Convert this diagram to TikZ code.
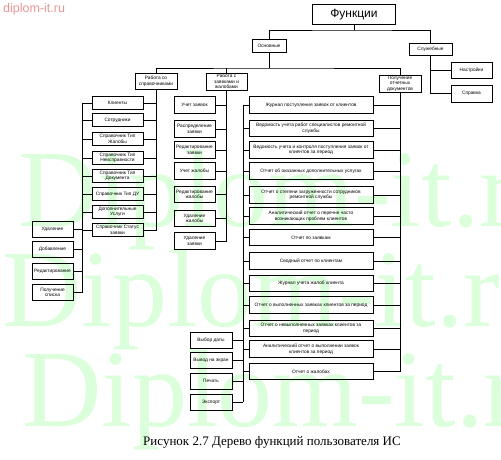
\documentclass[tikz,border=0pt]{standalone}
\usepackage{fontspec}
\setmainfont{Liberation Serif}
\newfontfamily\boxfont{Liberation Sans}
\usetikzlibrary{positioning}
\definecolor{wmgreen}{RGB}{218,255,218}
\definecolor{wmpink}{RGB}{232,150,150}

\begin{document}
\begin{tikzpicture}[x=1pt, y=-1pt,
  fbox/.style={rectangle, draw, line width=0.9pt, align=center, inner sep=0pt, font=\boxfont\fontsize{4.8}{5.6}\selectfont},
  sprbox/.style={fbox, minimum width=51pt, minimum height=13.5pt},
  opbox/.style={fbox, minimum width=41pt, minimum height=16pt},
  zaybox/.style={fbox, minimum width=41pt, minimum height=16.5pt},
  repbox/.style={fbox, minimum width=124pt, minimum height=16.5pt},
  link/.style={line width=0.8pt},
  wmark/.style={anchor=base west, inner sep=0pt, text=wmgreen, font=\fontsize{110}{110}\selectfont}
]
\useasboundingbox (0,0) rectangle (501,460);

% водяной знак
\begin{scope}
\clip (0,0) rectangle (501,460);
\node[wmark] (wm1) at (18,226) {Diplom-it.ru};
\node[wmark] (wm2) at (2,326) {Diplom-it.ru};
\node[wmark] (wm3) at (22,426) {Diplom-it.ru};
\end{scope}

% надпись сайта
\node[anchor=base west, inner sep=0pt, text=wmpink, font=\boxfont\fontsize{12.5}{14}\selectfont] (site) at (3,12.5) {diplom-it.ru};

% корень и первый уровень
\node[fbox, minimum width=83pt, minimum height=20pt, line width=1pt, font=\boxfont\fontsize{12}{14}\selectfont] (F) at (354,15) {Функции};
\node[fbox, minimum width=34pt, minimum height=13pt] (osn) at (269,45.5) {Основные};
\node[fbox, minimum width=43pt, minimum height=12pt] (sl) at (430.5,49) {Служебные};
\node[fbox, minimum width=41pt, minimum height=16pt] (nast) at (471.5,70) {Настройки};
\node[fbox, minimum width=41pt, minimum height=17pt] (sprav) at (471.5,93.5) {Справка};

% второй уровень
\node[fbox, minimum width=42pt, minimum height=16pt] (spr) at (156,81) {Работа со\\справочниками};
\node[fbox, minimum width=41pt, minimum height=17pt] (zay) at (226.5,81.5) {Работа с\\заявками и\\жалобами};
\node[fbox, minimum width=42pt, minimum height=17pt] (otch) at (400,83.5) {Получение\\отчетных\\документов};

% справочники
\node[sprbox] (c1) at (117.5,103) {Клиенты};
\node[sprbox] (c2) at (117.5,120) {Сотрудники};
\node[sprbox] (c3) at (117.5,139) {Справочник Тип\\Жалобы};
\node[sprbox] (c4) at (117.5,158) {Справочник Тип\\Неисправности};
\node[sprbox] (c5) at (117.5,176) {Справочник Тип\\Документа};
\node[sprbox] (c6) at (117.5,194) {Справочник Тип ДУ};
\node[sprbox] (c7) at (117.5,212) {Дополнительные\\Услуги};
\node[sprbox] (c8) at (117.5,230) {Справочник Статус\\заявки};

% операции со справочниками
\node[opbox] (o1) at (52.5,229) {Удаление};
\node[opbox] (o2) at (52.5,249.5) {Добавление};
\node[opbox] (o3) at (52.5,271) {Редактирование};
\node[opbox] (o4) at (52.5,292.5) {Получение\\списка};

% заявки и жалобы
\node[zaybox] (z1) at (194.5,105) {Учет заявок};
\node[zaybox] (z2) at (194.5,129) {Распределение\\заявки};
\node[zaybox] (z3) at (194.5,150) {Редактирование\\заявки};
\node[zaybox] (z4) at (194.5,171) {Учет жалобы};
\node[zaybox] (z5) at (194.5,194.5) {Редактирование\\жалобы};
\node[zaybox] (z6) at (194.5,218.5) {Удаление\\жалобы};
\node[zaybox] (z7) at (194.5,241) {Удаление\\заявки};

% отчетные документы
\node[repbox] (r1) at (311,105) {Журнал поступления заявок от клиентов};
\node[repbox] (r2) at (311,128.5) {Ведомость учета работ специалистов ремонтной\\службы};
\node[repbox] (r3) at (311,150) {Ведомость учета и контроля поступления заявок от\\клиентов за период};
\node[repbox] (r4) at (311,171) {Отчет об оказанных дополнительных услугах};
\node[repbox] (r5) at (311,195) {Отчет о степени загруженности сотрудников\\ремонтной службы};
\node[repbox] (r6) at (311,216) {Аналитический отчет о перечне часто\\возникающих проблем клиентов};
\node[repbox] (r7) at (311,237.5) {Отчет по заявкам};
\node[repbox] (r8) at (311,261) {Сводный отчет по клиентам};
\node[repbox] (r9) at (311,283.5) {Журнал учета жалоб клиента};
\node[repbox] (r10) at (311,305) {Отчет о выполненных заявках клиентов за период};
\node[repbox] (r11) at (311,328.5) {Отчет о невыполненных заявках клиентов за\\период};
\node[repbox] (r12) at (311,349) {Аналитический отчет о выполнении заявок\\клиентов за период};
\node[repbox] (r13) at (311,371.5) {Отчет о жалобах};

% операции с отчетами
\node[opbox, minimum width=42pt] (d1) at (211,340.5) {Выбор даты};
\node[opbox, minimum width=42pt] (d2) at (211,360) {Вывод на экран};
\node[opbox, minimum width=42pt] (d3) at (211,381) {Печать};
\node[opbox, minimum width=42pt] (d4) at (211,402) {Экспорт};

% связи верхних уровней
\coordinate (j1) at (354,30);
\coordinate (j2) at (269,68);
\draw[link] (F.south) -- (j1);
\draw[link] (osn.north) |- (j1) -| (sl.north);
\draw[link] (osn.south) -- (j2);
\draw[link] (spr.north) |- (j2) -| (otch.north);
\draw[link] (zay.north) -- (zay.north |- j2);
\draw[link] (sl.south) |- (nast.west) (sl.south) |- (sprav.west);

% связи справочников
\draw[link] (spr.south) |- (c1.east) (spr.south) |- (c2.east) (spr.south) |- (c3.east) (spr.south) |- (c4.east)
  (spr.south) |- (c5.east) (spr.south) |- (c6.east) (spr.south) |- (c7.east) (spr.south) |- (c8.east);
\coordinate (ls1) at (82,103);
\coordinate (ls2) at (82,292.5);
\draw[link] (ls1) -- (ls2);
\draw[link] (c1.west) -- (c1.west -| ls1) (c2.west) -- (c2.west -| ls1) (c3.west) -- (c3.west -| ls1) (c4.west) -- (c4.west -| ls1)
  (c5.west) -- (c5.west -| ls1) (c6.west) -- (c6.west -| ls1) (c7.west) -- (c7.west -| ls1) (c8.west) -- (c8.west -| ls1);
\draw[link] (o1.east) -- (o1.east -| ls1) (o2.east) -- (o2.east -| ls1) (o3.east) -- (o3.east -| ls1) (o4.east) -- (o4.east -| ls1);

% связи заявок
\draw[link] (zay.south) |- (z1.east) (zay.south) |- (z2.east) (zay.south) |- (z3.east) (zay.south) |- (z4.east)
  (zay.south) |- (z5.east) (zay.south) |- (z6.east) (zay.south) |- (z7.east);

% связи отчетов
\draw[link] (otch.south) |- (r1.east) (otch.south) |- (r2.east) (otch.south) |- (r3.east) (otch.south) |- (r4.east)
  (otch.south) |- (r5.east) (otch.south) |- (r6.east) (otch.south) |- (r7.east) (otch.south) |- (r8.east)
  (otch.south) |- (r9.east) (otch.south) |- (r10.east) (otch.south) |- (r11.east) (otch.south) |- (r12.east)
  (otch.south) |- (r13.east);
\coordinate (rs1) at (243,105);
\coordinate (rs2) at (243,402);
\draw[link] (rs1) -- (rs2);
\draw[link] (r1.west) -- (r1.west -| rs1) (r2.west) -- (r2.west -| rs1) (r3.west) -- (r3.west -| rs1) (r4.west) -- (r4.west -| rs1)
  (r5.west) -- (r5.west -| rs1) (r6.west) -- (r6.west -| rs1) (r7.west) -- (r7.west -| rs1) (r8.west) -- (r8.west -| rs1)
  (r9.west) -- (r9.west -| rs1) (r10.west) -- (r10.west -| rs1) (r11.west) -- (r11.west -| rs1) (r12.west) -- (r12.west -| rs1)
  (r13.west) -- (r13.west -| rs1);
\draw[link] (d1.east) -- (d1.east -| rs1) (d2.east) -- (d2.east -| rs1) (d3.east) -- (d3.east -| rs1) (d4.east) -- (d4.east -| rs1);

% подпись
\node[anchor=base, inner sep=0pt, font=\fontsize{13}{15}\selectfont] (cap) at (272,445) {Рисунок 2.7 Дерево функций пользователя ИС};

\end{tikzpicture}
\end{document}
